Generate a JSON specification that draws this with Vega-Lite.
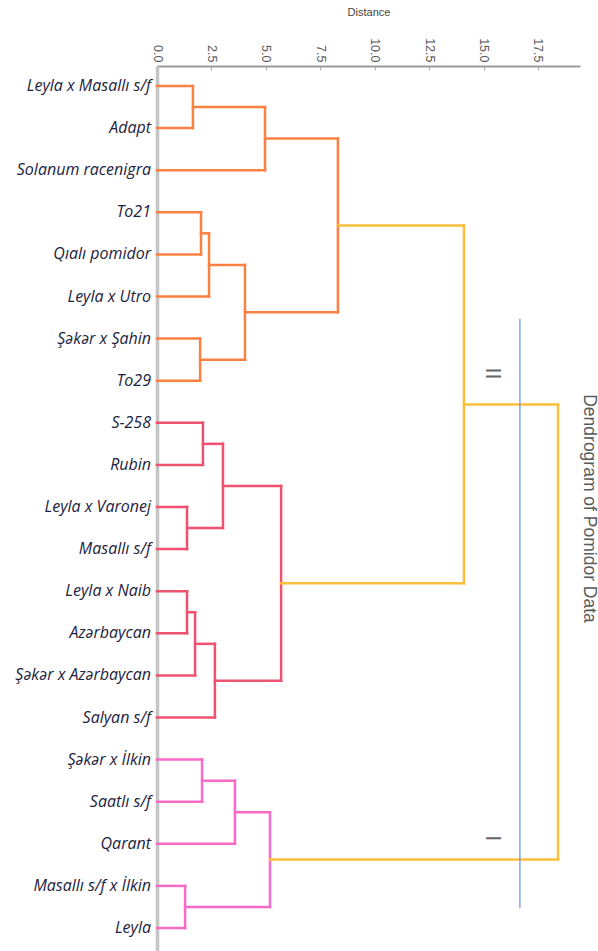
{
  "$schema": "https://vega.github.io/schema/vega-lite/v6.json",
  "width": 423,
  "height": 885,
  "autosize": {"type": "none"},
  "padding": {"left": 157, "top": 66, "right": 18, "bottom": 0},
  "background": "white",
  "title": {
    "text": "Dendrogram of Pomidor Data",
    "orient": "right",
    "anchor": "middle",
    "font": "Liberation Sans",
    "fontSize": 17.5,
    "fontWeight": "normal",
    "color": "#5a5a5a",
    "offset": 0
  },
  "config": {
    "view": {"stroke": null},
    "font": "Liberation Sans"
  },
  "datasets": {
    "links": [
      {"d0": 0, "d1": 1.65, "p0": 0, "p1": 0, "cluster": "o"},
      {"d0": 0, "d1": 1.65, "p0": 1, "p1": 1, "cluster": "o"},
      {"d0": 1.65, "d1": 1.65, "p0": 0, "p1": 1, "cluster": "o"},
      {"d0": 1.65, "d1": 4.96, "p0": 0.5, "p1": 0.5, "cluster": "o"},
      {"d0": 0, "d1": 4.96, "p0": 2, "p1": 2, "cluster": "o"},
      {"d0": 4.96, "d1": 4.96, "p0": 0.5, "p1": 2, "cluster": "o"},
      {"d0": 0, "d1": 2.02, "p0": 3, "p1": 3, "cluster": "o"},
      {"d0": 0, "d1": 2.02, "p0": 4, "p1": 4, "cluster": "o"},
      {"d0": 2.02, "d1": 2.02, "p0": 3, "p1": 4, "cluster": "o"},
      {"d0": 2.02, "d1": 2.39, "p0": 3.5, "p1": 3.5, "cluster": "o"},
      {"d0": 0, "d1": 2.39, "p0": 5, "p1": 5, "cluster": "o"},
      {"d0": 2.39, "d1": 2.39, "p0": 3.5, "p1": 5, "cluster": "o"},
      {"d0": 0, "d1": 1.98, "p0": 6, "p1": 6, "cluster": "o"},
      {"d0": 0, "d1": 1.98, "p0": 7, "p1": 7, "cluster": "o"},
      {"d0": 1.98, "d1": 1.98, "p0": 6, "p1": 7, "cluster": "o"},
      {"d0": 2.39, "d1": 4.04, "p0": 4.25, "p1": 4.25, "cluster": "o"},
      {"d0": 1.98, "d1": 4.04, "p0": 6.5, "p1": 6.5, "cluster": "o"},
      {"d0": 4.04, "d1": 4.04, "p0": 4.25, "p1": 6.5, "cluster": "o"},
      {"d0": 4.96, "d1": 8.31, "p0": 1.25, "p1": 1.25, "cluster": "o"},
      {"d0": 4.04, "d1": 8.31, "p0": 5.375, "p1": 5.375, "cluster": "o"},
      {"d0": 8.31, "d1": 8.31, "p0": 1.25, "p1": 5.375, "cluster": "o"},
      {"d0": 0, "d1": 2.11, "p0": 8, "p1": 8, "cluster": "r"},
      {"d0": 0, "d1": 2.11, "p0": 9, "p1": 9, "cluster": "r"},
      {"d0": 2.11, "d1": 2.11, "p0": 8, "p1": 9, "cluster": "r"},
      {"d0": 0, "d1": 1.38, "p0": 10, "p1": 10, "cluster": "r"},
      {"d0": 0, "d1": 1.38, "p0": 11, "p1": 11, "cluster": "r"},
      {"d0": 1.38, "d1": 1.38, "p0": 10, "p1": 11, "cluster": "r"},
      {"d0": 2.11, "d1": 3.03, "p0": 8.5, "p1": 8.5, "cluster": "r"},
      {"d0": 1.38, "d1": 3.03, "p0": 10.5, "p1": 10.5, "cluster": "r"},
      {"d0": 3.03, "d1": 3.03, "p0": 8.5, "p1": 10.5, "cluster": "r"},
      {"d0": 0, "d1": 1.38, "p0": 12, "p1": 12, "cluster": "r"},
      {"d0": 0, "d1": 1.38, "p0": 13, "p1": 13, "cluster": "r"},
      {"d0": 1.38, "d1": 1.38, "p0": 12, "p1": 13, "cluster": "r"},
      {"d0": 1.38, "d1": 1.75, "p0": 12.5, "p1": 12.5, "cluster": "r"},
      {"d0": 0, "d1": 1.75, "p0": 14, "p1": 14, "cluster": "r"},
      {"d0": 1.75, "d1": 1.75, "p0": 12.5, "p1": 14, "cluster": "r"},
      {"d0": 1.75, "d1": 2.66, "p0": 13.25, "p1": 13.25, "cluster": "r"},
      {"d0": 0, "d1": 2.66, "p0": 15, "p1": 15, "cluster": "r"},
      {"d0": 2.66, "d1": 2.66, "p0": 13.25, "p1": 15, "cluster": "r"},
      {"d0": 3.03, "d1": 5.7, "p0": 9.5, "p1": 9.5, "cluster": "r"},
      {"d0": 2.66, "d1": 5.7, "p0": 14.125, "p1": 14.125, "cluster": "r"},
      {"d0": 5.7, "d1": 5.7, "p0": 9.5, "p1": 14.125, "cluster": "r"},
      {"d0": 0, "d1": 2.07, "p0": 16, "p1": 16, "cluster": "p"},
      {"d0": 0, "d1": 2.07, "p0": 17, "p1": 17, "cluster": "p"},
      {"d0": 2.07, "d1": 2.07, "p0": 16, "p1": 17, "cluster": "p"},
      {"d0": 2.07, "d1": 3.58, "p0": 16.5, "p1": 16.5, "cluster": "p"},
      {"d0": 0, "d1": 3.58, "p0": 18, "p1": 18, "cluster": "p"},
      {"d0": 3.58, "d1": 3.58, "p0": 16.5, "p1": 18, "cluster": "p"},
      {"d0": 0, "d1": 1.29, "p0": 19, "p1": 19, "cluster": "p"},
      {"d0": 0, "d1": 1.29, "p0": 20, "p1": 20, "cluster": "p"},
      {"d0": 1.29, "d1": 1.29, "p0": 19, "p1": 20, "cluster": "p"},
      {"d0": 3.58, "d1": 5.19, "p0": 17.25, "p1": 17.25, "cluster": "p"},
      {"d0": 1.29, "d1": 5.19, "p0": 19.5, "p1": 19.5, "cluster": "p"},
      {"d0": 5.19, "d1": 5.19, "p0": 17.25, "p1": 19.5, "cluster": "p"},
      {"d0": 8.31, "d1": 14.1, "p0": 3.3125, "p1": 3.3125, "cluster": "g"},
      {"d0": 5.7, "d1": 14.1, "p0": 11.8125, "p1": 11.8125, "cluster": "g"},
      {"d0": 14.1, "d1": 14.1, "p0": 3.3125, "p1": 11.8125, "cluster": "g"},
      {"d0": 14.1, "d1": 18.42, "p0": 7.5625, "p1": 7.5625, "cluster": "g"},
      {"d0": 5.19, "d1": 18.42, "p0": 18.375, "p1": 18.375, "cluster": "g"},
      {"d0": 18.42, "d1": 18.42, "p0": 7.5625, "p1": 18.375, "cluster": "g"}
    ],
    "leaves": [
      {"name": "Leyla x Masallı s/f", "idx": 0},
      {"name": "Adapt", "idx": 1},
      {"name": "Solanum racenigra", "idx": 2},
      {"name": "To21", "idx": 3},
      {"name": "Qıalı pomidor", "idx": 4},
      {"name": "Leyla x Utro", "idx": 5},
      {"name": "Şəkər x Şahin", "idx": 6},
      {"name": "To29", "idx": 7},
      {"name": "S-258", "idx": 8},
      {"name": "Rubin", "idx": 9},
      {"name": "Leyla x Varonej", "idx": 10},
      {"name": "Masallı s/f", "idx": 11},
      {"name": "Leyla x Naib", "idx": 12},
      {"name": "Azərbaycan", "idx": 13},
      {"name": "Şəkər x Azərbaycan", "idx": 14},
      {"name": "Salyan s/f", "idx": 15},
      {"name": "Şəkər x İlkin", "idx": 16},
      {"name": "Saatlı s/f", "idx": 17},
      {"name": "Qarant", "idx": 18},
      {"name": "Masallı s/f x İlkin", "idx": 19},
      {"name": "Leyla", "idx": 20}
    ],
    "cut": [
      {"d": 16.67, "p0": 5.53, "p1": 19.53}
    ],
    "groups": [
      {"d": 15.43, "p": 6.83, "label": "II"},
      {"d": 15.43, "p": 17.87, "label": "I"}
    ]
  },
  "layer": [
    {
      "data": {"name": "links"},
      "mark": {"type": "rule", "strokeWidth": 2.5, "strokeCap": "square"},
      "encoding": {
        "x": {
          "field": "d0", "type": "quantitative",
          "scale": {"domain": [0, 19.43], "nice": false, "zero": false},
          "axis": {
            "orient": "top",
            "title": "Distance",
            "titleFont": "Liberation Sans",
            "titleFontSize": 11,
            "titleFontWeight": "normal",
            "titleColor": "#444",
            "titlePadding": 20,
            "values": [0, 2.5, 5, 7.5, 10, 12.5, 15, 17.5],
            "format": ".1f",
            "labelAngle": 90,
            "labelFontSize": 12.5,
            "labelColor": "#555",
            "labelPadding": 8,
            "tickSize": -4,
            "tickColor": "#aaa",
            "domainColor": "#9a9a9a",
            "domainWidth": 2,
            "grid": false
          }
        },
        "x2": {"field": "d1"},
        "y": {
          "field": "p0", "type": "quantitative",
          "scale": {"domain": [-0.475, 20.546], "nice": false, "zero": false, "reverse": true},
          "axis": {
            "title": null,
            "labels": false,
            "ticks": false,
            "grid": false,
            "domainColor": "#c4c4c4",
            "domainWidth": 3.5
          }
        },
        "y2": {"field": "p1"},
        "color": {
          "field": "cluster", "type": "nominal", "legend": null,
          "scale": {"domain": ["o", "r", "p", "g"], "range": ["#FB8142", "#EF5270", "#F76AC6", "#FDBE3A"]}
        }
      }
    },
    {
      "data": {"name": "cut"},
      "mark": {"type": "rule", "color": "#6C9EF0", "strokeWidth": 1.3},
      "encoding": {
        "x": {"field": "d", "type": "quantitative"},
        "y": {"field": "p0", "type": "quantitative"},
        "y2": {"field": "p1"}
      }
    },
    {
      "data": {"name": "groups"},
      "mark": {"type": "text", "angle": 90, "fontSize": 22, "color": "#666", "font": "Liberation Sans", "align": "center", "baseline": "middle"},
      "encoding": {
        "x": {"field": "d", "type": "quantitative"},
        "y": {"field": "p", "type": "quantitative"},
        "text": {"field": "label"}
      }
    },
    {
      "data": {"name": "leaves"},
      "mark": {"type": "text", "align": "right", "baseline": "middle", "dx": -6, "font": "Open Sans", "fontStyle": "italic", "fontSize": 16, "color": "#1c2340"},
      "encoding": {
        "x": {"datum": 0, "type": "quantitative"},
        "y": {"field": "idx", "type": "quantitative"},
        "text": {"field": "name"}
      }
    }
  ]
}
